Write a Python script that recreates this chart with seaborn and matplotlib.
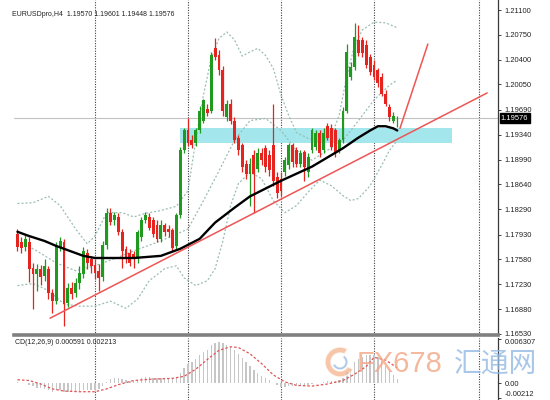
import numpy as np
import pandas as pd
import matplotlib
matplotlib.use("Agg")
import matplotlib.pyplot as plt
from matplotlib.patches import Rectangle, Wedge
import matplotlib.transforms as mtrans
import seaborn as sns

sns.set_theme(style="white")
plt.rcParams['font.family'] = ['Liberation Sans', 'DejaVu Sans']

# ---------------- data (EURUSD H4) ----------------
opens = [1.1794, 1.1783, 1.1776, 1.1783, 1.1746, 1.1738, 1.1745, 1.1735, 1.1745, 1.1711,
         1.1699, 1.1776, 1.1782, 1.1697, 1.1718, 1.1711, 1.1724, 1.1738, 1.1767, 1.1758,
         1.1750, 1.1742, 1.1733, 1.1779, 1.1824, 1.1813, 1.1818, 1.1797, 1.1772, 1.1767,
         1.1765, 1.1759, 1.1790, 1.1814, 1.1818, 1.1814, 1.1807, 1.1787, 1.1806, 1.1801,
         1.1799, 1.1777, 1.1820, 1.1912, 1.1940, 1.1926, 1.1922, 1.1940, 1.1954, 1.1971,
         1.1968, 1.2056, 1.2046, 1.2025, 1.1959, 1.1978, 1.1954, 1.1930, 1.1919, 1.1893,
         1.1879, 1.1905, 1.1886, 1.1908, 1.1915, 1.1905, 1.1919, 1.1874, 1.1872, 1.1881,
         1.1891, 1.1919, 1.1912, 1.1893, 1.1909, 1.1881, 1.1912, 1.1916, 1.1936, 1.1912,
         1.1947, 1.1944, 1.1940, 1.1912, 1.1926, 1.1968, 1.2015, 1.2029, 1.2068, 1.2068,
         1.2061, 1.2044, 1.2032, 1.2025, 1.2015, 1.1992, 1.1973, 1.1954, 1.19570]
highs = [1.1801, 1.1790, 1.1793, 1.1789, 1.1753, 1.1752, 1.1750, 1.1759, 1.1749, 1.1716,
         1.1782, 1.1790, 1.1787, 1.1725, 1.1726, 1.1732, 1.1748, 1.1776, 1.1773, 1.1763,
         1.1759, 1.1752, 1.1784, 1.1830, 1.1830, 1.1825, 1.1823, 1.1801, 1.1777, 1.1773,
         1.1770, 1.1800, 1.1818, 1.1825, 1.1823, 1.1818, 1.1813, 1.1813, 1.1810, 1.1806,
         1.1803, 1.1824, 1.1916, 1.1944, 1.1958, 1.1933, 1.1943, 1.1974, 1.1985, 1.1977,
         1.2051, 1.2070, 1.2053, 1.2031, 1.1983, 1.1985, 1.1959, 1.1934, 1.1923, 1.1898,
         1.1901, 1.1912, 1.1915, 1.1915, 1.1919, 1.1912, 1.1978, 1.1881, 1.1881, 1.1902,
         1.1923, 1.1923, 1.1916, 1.1912, 1.1913, 1.1908, 1.1944, 1.1940, 1.1940, 1.1943,
         1.1951, 1.1949, 1.1944, 1.1930, 1.1973, 1.2062, 1.2036, 1.2092, 1.2089, 1.2072,
         1.2068, 1.2048, 1.2039, 1.2028, 1.2021, 1.1997, 1.1977, 1.1966, 1.19601]
lows = [1.1770, 1.1767, 1.1770, 1.1726, 1.1688, 1.1714, 1.1722, 1.1728, 1.1702, 1.1682,
        1.1695, 1.1770, 1.1664, 1.1691, 1.1702, 1.1705, 1.1716, 1.1732, 1.1745, 1.1739,
        1.1731, 1.1714, 1.1728, 1.1773, 1.1806, 1.1807, 1.1793, 1.1746, 1.1753, 1.1748,
        1.1746, 1.1753, 1.1784, 1.1810, 1.1799, 1.1790, 1.1783, 1.1783, 1.1791, 1.1790,
        1.1770, 1.1773, 1.1816, 1.1908, 1.1918, 1.1915, 1.1918, 1.1936, 1.1950, 1.1960,
        1.1964, 1.2039, 1.2018, 1.1961, 1.1954, 1.1949, 1.1922, 1.1905, 1.1881, 1.1872,
        1.1834, 1.1824, 1.1881, 1.1891, 1.1881, 1.1876, 1.1862, 1.1845, 1.1848, 1.1876,
        1.1886, 1.1889, 1.1888, 1.1889, 1.1869, 1.1875, 1.1908, 1.1912, 1.1902, 1.1908,
        1.1926, 1.1912, 1.1903, 1.1908, 1.1922, 1.1964, 1.2011, 1.2025, 1.2045, 1.2044,
        1.2028, 1.2018, 1.2011, 1.2002, 1.1988, 1.1974, 1.1954, 1.1950, 1.19448]
closes = [1.1776, 1.1774, 1.1787, 1.1745, 1.1738, 1.1745, 1.1733, 1.1748, 1.1711, 1.1699,
          1.1777, 1.1784, 1.1695, 1.1718, 1.1709, 1.1725, 1.1739, 1.1770, 1.1753, 1.1748,
          1.1739, 1.1732, 1.1779, 1.1824, 1.1811, 1.1820, 1.1797, 1.1770, 1.1760, 1.1753,
          1.1759, 1.1796, 1.1814, 1.1821, 1.1803, 1.1794, 1.1787, 1.1807, 1.1796, 1.1796,
          1.1774, 1.1820, 1.1912, 1.1940, 1.1922, 1.1919, 1.1940, 1.1968, 1.1983, 1.1964,
          1.2046, 1.2044, 1.2025, 1.1968, 1.1978, 1.1954, 1.1926, 1.1912, 1.1888, 1.1879,
          1.1893, 1.1879, 1.1908, 1.1898, 1.1888, 1.1884, 1.1869, 1.1852, 1.1855, 1.1898,
          1.1919, 1.1895, 1.1893, 1.1908, 1.1888, 1.1902, 1.1940, 1.1936, 1.1908, 1.1937,
          1.1930, 1.1916, 1.1908, 1.1926, 1.1968, 1.2051, 1.2029, 1.2072, 1.2049, 1.2049,
          1.2032, 1.2022, 1.2015, 1.2007, 1.1992, 1.1978, 1.1959, 1.1961, 1.19576]

ma_bars = [0, 3, 7, 10, 14, 17, 20, 24, 30, 37, 42, 47, 51, 56, 60, 64, 68, 72, 76, 80, 84, 88, 91, 93, 95, 97, 98]
ma_vals = [1.1797, 1.1791, 1.1784, 1.1777, 1.1769, 1.1763, 1.1760, 1.1760, 1.1760, 1.1763, 1.1773, 1.1787,
           1.1810, 1.1831, 1.1847, 1.1858, 1.1869, 1.1879, 1.1889, 1.1902, 1.1915, 1.1930, 1.1940, 1.1946,
           1.1946, 1.1943, 1.1940]

bb_up_bars = [0, 4, 8, 11, 15, 18, 20, 23, 27, 30, 33, 37, 41, 44, 46, 48, 50, 52, 54, 56, 58, 60, 62, 64,
              66, 68, 70, 72, 75, 78, 81, 83, 85, 87, 89, 92, 95, 98]
bb_up_vals = [1.1837, 1.1838, 1.1847, 1.1834, 1.1801, 1.1780, 1.1791, 1.1824, 1.1824, 1.1818, 1.1823, 1.1827,
              1.1833, 1.1855, 1.1926, 1.1990, 1.2042, 1.2070, 1.2079, 1.2068, 1.2045, 1.2051, 1.2056, 1.2046,
              1.2028, 1.1990, 1.1961, 1.1937, 1.1929, 1.1926, 1.1933, 1.1961, 1.2018, 1.2060, 1.2082, 1.2093,
              1.2092, 1.2085]
bb_mid_bars = [0, 5, 10, 15, 20, 25, 30, 35, 40, 44, 48, 52, 56, 60, 64, 68, 72, 76, 80, 84, 88, 92, 96, 98]
bb_mid_vals = [1.1784, 1.1770, 1.1753, 1.1742, 1.1749, 1.1759, 1.1770, 1.1780, 1.1791, 1.1801, 1.1841, 1.1883,
               1.1926, 1.1954, 1.1957, 1.1940, 1.1912, 1.1898, 1.1912, 1.1926, 1.1954, 1.1983, 1.2004, 1.2011]
bb_lo_bars = [0, 4, 8, 12, 16, 20, 24, 28, 31, 34, 38, 41, 43, 46, 49, 51, 53, 55, 57, 60, 63, 66, 69, 72,
              75, 78, 81, 84, 86, 88, 91, 94, 96, 98]
bb_lo_vals = [1.1721, 1.1724, 1.1714, 1.1695, 1.1692, 1.1692, 1.1699, 1.1689, 1.1702, 1.1728, 1.1745, 1.1749,
              1.1732, 1.1721, 1.1728, 1.1745, 1.1784, 1.1834, 1.1865, 1.1881, 1.1872, 1.1841, 1.1824, 1.1834,
              1.1853, 1.1870, 1.1862, 1.1848, 1.1841, 1.1844, 1.1862, 1.1891, 1.1912, 1.1926]

macd_hist = [0.0002, 0.0001, 0.0000, -0.0002, -0.0004, -0.0006, -0.0007, -0.0008, -0.0010, -0.0012,
             -0.0010, -0.0009, -0.0012, -0.0013, -0.0013, -0.0012, -0.0011, -0.0009, -0.0009, -0.0009,
             -0.0009, -0.0008, -0.0004, 0.0002, 0.0006, 0.0008, 0.0008, 0.0006, 0.0004, 0.0003,
             0.0003, 0.0005, 0.0007, 0.0009, 0.0009, 0.0008, 0.0007, 0.0007, 0.0007, 0.0007,
             0.0006, 0.0008, 0.0015, 0.0022, 0.0027, 0.0031, 0.0035, 0.0040, 0.0045, 0.0048,
             0.0054, 0.0058, 0.0059, 0.0057, 0.0055, 0.0052, 0.0047, 0.0042, 0.0036, 0.0030,
             0.0025, 0.0019, 0.0015, 0.0011, 0.0007, 0.0004, 0.0001, -0.0003, -0.0005, -0.0005,
             -0.0004, -0.0004, -0.0004, -0.0003, -0.0004, -0.0003, -0.0001, 0.0001, 0.0001, 0.0002,
             0.0003, 0.0003, 0.0003, 0.0004, 0.0008, 0.0016, 0.0022, 0.0030, 0.0035, 0.0038,
             0.0040, 0.0041, 0.0040, 0.0037, 0.0032, 0.0025, 0.0018, 0.0012, 0.000591]
sig_bars = [0, 3, 6, 9, 12, 16, 20, 23, 26, 30, 35, 40, 43, 46, 49, 52, 55, 57, 60, 63, 66, 69, 72, 76, 80,
            84, 87, 90, 92, 95, 98]
sig_vals = [0.0005, 0.0004, -0.0001, -0.0008, -0.0011, -0.0012, -0.0012, -0.0008, -0.0002, 0.0004, 0.0006,
            0.0007, 0.0010, 0.0020, 0.0034, 0.0047, 0.0052, 0.0051, 0.0042, 0.0028, 0.0012, 0.0002, -0.0003,
            -0.0004, -0.0001, 0.0004, 0.0013, 0.0024, 0.0037, 0.0033, 0.002213]

price_ticks = [1.21100, 1.20750, 1.20400, 1.20050, 1.19690, 1.19340, 1.18990, 1.18640, 1.18290,
               1.17930, 1.17580, 1.17230, 1.16880, 1.16530]
macd_ticks = [0.006307, 0.0, -0.00212]
macd_tick_labels = ["0.006307", "0.00", "-0.00212"]
grid_bars = [20, 44, 68, 92, 119]
zone_bars = [42.0, 112.1]
zone_prices = [1.1922, 1.1944]
trend1_bars = [8.4, 121.2]
trend1_prices = [1.1675, 1.1993]
trend2_bars = [98.7, 105.9]
trend2_prices = [1.1943, 1.2062]
last_price = 1.19576
header = "EURUSDpro,H4  1.19570 1.19601 1.19448 1.19576"
macd_header = "CD(12,26,9) 0.000591 0.002213"

# ---------------- figure ----------------
W, H = 550, 400
fig = plt.figure(figsize=(W / 100, H / 100), dpi=100)
ax = fig.add_axes([14 / W, (H - 335) / H, 484 / W, 335 / H])
ax2 = fig.add_axes([14 / W, 0, 484 / W, 62 / H])

XL = (-0.9, 124.0)
for a in (ax, ax2):
    a.set_xlim(*XL)
    a.set_facecolor("white")
    for s in ("left", "top"):
        a.spines[s].set_visible(False)
    a.spines["right"].set_color("#3a3a3a")
    a.spines["right"].set_linewidth(0.9)
    a.set_xticks([])
    a.yaxis.tick_right()
    a.tick_params(axis="y", direction="out", length=2.5, width=0.6, colors="#222222",
                  labelsize=5.4, pad=2, right=True, left=False)
    for gb in grid_bars:
        a.axvline(gb, color="#404040", lw=0.8, ls=(0, (1, 1.3)), zorder=1)

ax.spines["bottom"].set_color("#808080")
ax.spines["bottom"].set_linewidth(2.6)
ax2.spines["bottom"].set_visible(False)

ax.set_ylim(1.16513, 1.21242)
ax.set_yticks(price_ticks)
ax.set_yticklabels([f"{t:.5f}" for t in price_ticks])

# zone
ax.add_patch(Rectangle((zone_bars[0], zone_prices[0]), zone_bars[1] - zone_bars[0],
                       zone_prices[1] - zone_prices[0], facecolor="#a3e7ec", edgecolor="none", zorder=1.5))
# current price line
ax.axhline(last_price, color="#c2c2c2", lw=0.8, zorder=1.6)

# bollinger bands
band_kw = dict(color="#9bbdb4", lw=0.9, linestyle=(0, (1.6, 1.6)), zorder=2)
sns.lineplot(x=bb_up_bars, y=bb_up_vals, ax=ax, **band_kw)
sns.lineplot(x=bb_mid_bars, y=bb_mid_vals, ax=ax, **band_kw)
sns.lineplot(x=bb_lo_bars, y=bb_lo_vals, ax=ax, **band_kw)

# candles
idx = np.arange(len(opens))
o = np.array(opens); c = np.array(closes); h = np.array(highs); l = np.array(lows)
up = c >= o
cols = np.where(up, "#1f9a1f", "#e5231f")
ax.vlines(idx, l, h, colors=cols, lw=0.9, zorder=3)
body_h = np.maximum(np.abs(c - o), 0.00008)
ax.bar(idx, body_h, bottom=np.minimum(o, c), width=0.74, color=cols, linewidth=0, zorder=3.5)

# moving average
sns.lineplot(x=ma_bars, y=ma_vals, ax=ax, color="black", lw=1.7, zorder=4)

# trend lines
sns.lineplot(x=trend1_bars, y=trend1_prices, ax=ax, color="#ee5555", lw=1.1, zorder=4.5)
sns.lineplot(x=trend2_bars, y=trend2_prices, ax=ax, color="#ee5555", lw=1.1, zorder=4.5)

# price label
tr = mtrans.blended_transform_factory(ax.transAxes, ax.transData)
ax.text(1.006, last_price, f"{last_price:.5f}", transform=tr, fontsize=5.4, color="white",
        va="center", ha="left", zorder=10, clip_on=False,
        bbox=dict(boxstyle="square,pad=0.18", facecolor="black", edgecolor="black"))
ax.set_xlabel(""); ax.set_ylabel("")

# MACD panel
ax2.set_ylim(-0.00238, 0.00645)
ax2.bar(idx, macd_hist, width=0.35, color="#c6c6c6", linewidth=0, zorder=2)
sns.lineplot(x=sig_bars, y=sig_vals, ax=ax2, color="#e05555", lw=0.9, linestyle=(0, (2, 1.6)), zorder=3)
ax2.set_yticks(macd_ticks)
ax2.set_yticklabels(macd_tick_labels)
lbls = ax2.get_yticklabels()
lbls[0].set_va("top")
lbls[2].set_va("bottom")
ax2.set_xlabel(""); ax2.set_ylabel("")

# texts
fig.text(12 / W, 1 - 14 / H, header, fontsize=5.0, color="#222222", va="center", ha="left")
fig.text(15 / W, 1 - 343 / H, macd_header, fontsize=5.0, color="#222222", va="center", ha="left")

# watermark
fig.patches.append(Wedge((340, H - 362), 15, 60, 330, width=6, facecolor="#f5b48c", alpha=0.75,
                         transform=None, figure=fig))
fig.patches.append(Wedge((340, H - 362), 8, 200, 420, width=3, facecolor="#8fb3de", alpha=0.75,
                         transform=None, figure=fig))
fig.text(357 / W, 1 - 364 / H, "FX678", fontsize=21, color="#f4a684", alpha=0.8, va="center", ha="left")
fig.text(454 / W, 1 - 364 / H, "汇通网", fontsize=20, color="#93b9e4", alpha=0.8, va="center", ha="left",
         family=["Noto Sans CJK SC", "DejaVu Sans"])

fig.savefig("out.png", dpi=100, facecolor="white")
